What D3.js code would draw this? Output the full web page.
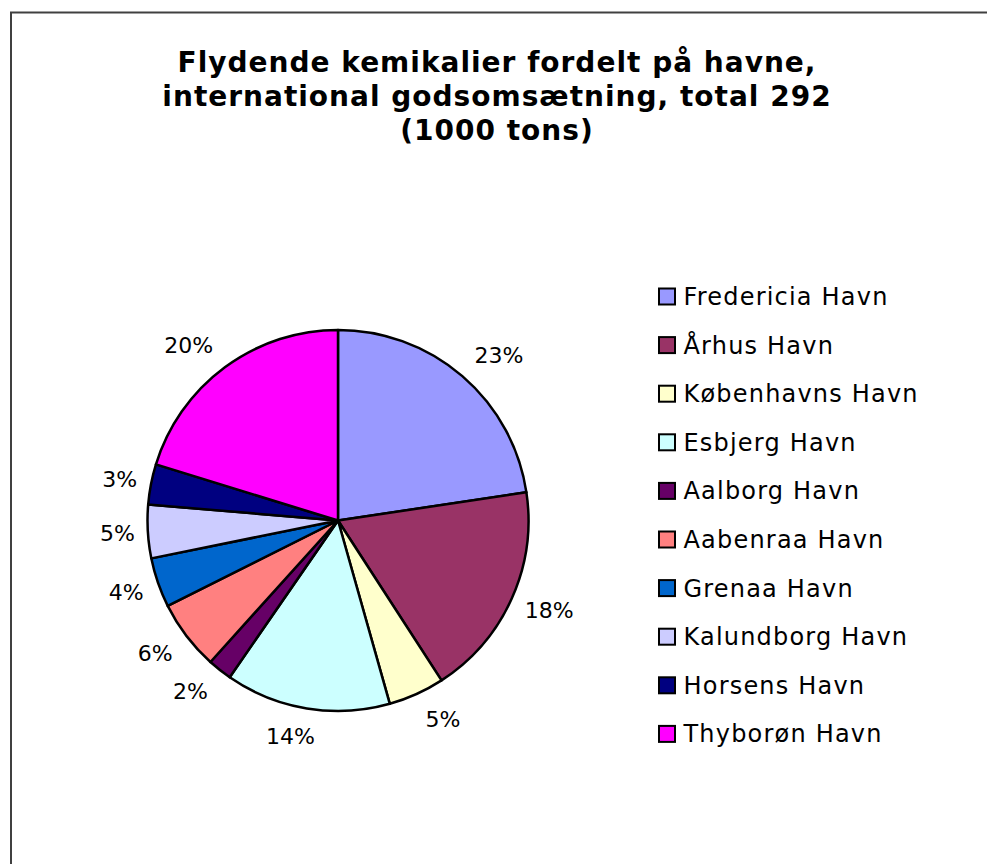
<!DOCTYPE html>
<html>
<head>
<meta charset="utf-8">
<script src="https://cdn.jsdelivr.net/npm/d3@7"></script>
<style>
  body { margin: 0; background: #fff; }
  text { font-family: Verdana, "DejaVu Sans", sans-serif; }
</style>
</head>
<body>
<svg id="chart"></svg>
<script>
const width = 987;
const height = 864;

// data (1000 tons, total 292)
const ports = ['Fredericia Havn', 'Århus Havn', 'Københavns Havn', 'Esbjerg Havn', 'Aalborg Havn',
    'Aabenraa Havn', 'Grenaa Havn', 'Kalundborg Havn', 'Horsens Havn', 'Thyborøn Havn'];
const tons = [66.1, 53.2, 13.9, 40.9, 6.0, 17.3, 12.3, 13.2, 10.0, 59.1];
const colors = ['#9999ff', '#993366', '#ffffcc', '#ccffff', '#660066',
    '#ff8080', '#0066cc', '#ccccff', '#000080', '#ff00ff'];
const titleLines = ['Flydende kemikalier fordelt på havne,', 'international godsomsætning, total 292', '(1000 tons)'];

const data = ports.map((p, i) => ({ port: p, value: tons[i] }));
const total = d3.sum(tons);

const svg = d3.select('#chart')
    .attr('width', width)
    .attr('height', height);

// chart frame (runs off the right/bottom edge)
svg.append('rect')
    .attr('x', 11)
    .attr('y', 12.5)
    .attr('width', 1000)
    .attr('height', 900)
    .attr('fill', '#fff')
    .attr('stroke', '#404040')
    .attr('stroke-width', 2);

// title
svg.append('text')
    .attr('text-anchor', 'middle')
    .attr('font-size', 28)
    .attr('font-weight', 'bold')
    .attr('letter-spacing', 1)
    .selectAll('tspan')
    .data(titleLines)
    .enter()
    .append('tspan')
    .attr('x', 497)
    .attr('y', (d, i) => 72 + i * 34)
    .text(d => d);

const cx = 338, cy = 520.5, radius = 190.5;
const colorScale = d3.scaleOrdinal(colors).domain(ports);

const pie = d3.pie().sort(null).value(d => d.value);
const arc = d3.arc().innerRadius(0).outerRadius(radius);

const pieGroup = svg.append('g')
    .attr('transform', `translate(${cx},${cy})`);

const arcs = pie(data);

pieGroup.selectAll('path')
    .data(arcs)
    .enter()
    .append('path')
    .attr('d', arc)
    .attr('fill', d => colorScale(d.data.port))
    .attr('stroke', '#000')
    .attr('stroke-width', 2.5)
    .attr('stroke-linejoin', 'round');

// percentage labels, pushed out past the rim along the slice's mid angle
pieGroup.selectAll('text.pct')
    .data(arcs)
    .enter()
    .append('text')
    .attr('class', 'pct')
    .attr('font-size', 22)
    .attr('text-anchor', 'middle')
    .attr('fill', '#000')
    .text(d => Math.round(d.data.value / total * 100) + '%')
    .each(function(d) {
        const a = (d.startAngle + d.endAngle) / 2;
        const ux = Math.sin(a), uy = -Math.cos(a);
        const w = this.getComputedTextLength();
        const shift = Math.sign(ux) * (w / 2) * (0.6 + 0.5 * Math.abs(uy)) * Math.min(1, 3 * Math.abs(ux));
        d3.select(this)
            .attr('x', 210 * ux + shift)
            .attr('y', 218 * uy + 8);
    });

// legend
const legend = svg.append('g')
    .attr('transform', 'translate(659,288.5)');

const rowH = 48.6;
const items = legend.selectAll('g')
    .data(ports)
    .enter()
    .append('g')
    .attr('transform', (d, i) => `translate(0,${i * rowH})`);

items.append('rect')
    .attr('width', 16)
    .attr('height', 16)
    .attr('fill', d => colorScale(d))
    .attr('stroke', '#000')
    .attr('stroke-width', 2);

items.append('text')
    .attr('x', 24.5)
    .attr('y', 16.5)
    .attr('font-size', 24)
    .attr('letter-spacing', 1.2)
    .attr('fill', '#000')
    .text(d => d);
</script>
</body>
</html>
